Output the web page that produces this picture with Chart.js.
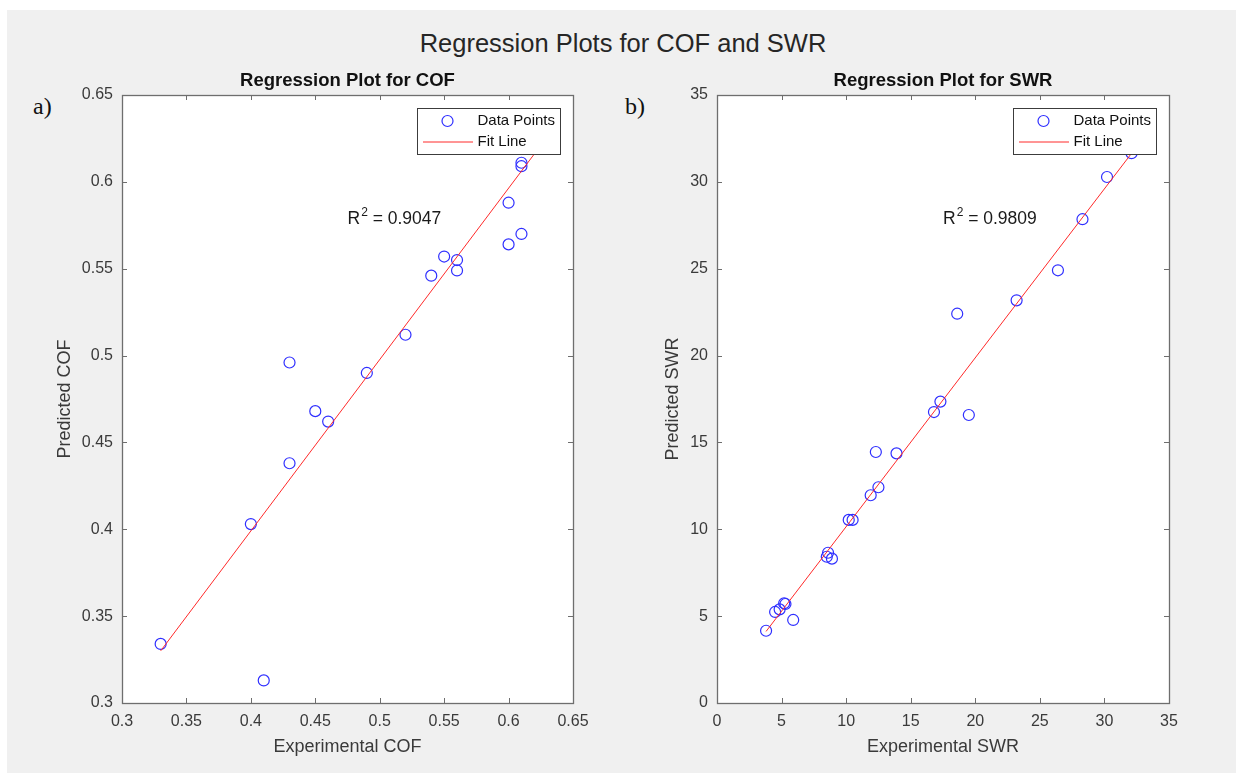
<!DOCTYPE html>
<html>
<head>
<meta charset="utf-8">
<title>Regression Plots for COF and SWR</title>
<script src="https://cdn.jsdelivr.net/npm/chart.js@4.4.0/dist/chart.umd.min.js"></script>
<style>
    html, body { margin: 0; padding: 0; background: #ffffff; }
    body { width: 1236px; height: 773px; position: relative; overflow: hidden; font-family: "Liberation Sans", Arial, sans-serif; }
    #figure { position: absolute; left: 7px; top: 10px; right: 0; bottom: 0; background: #f0f0f0; }
    #mainTitle { position: absolute; left: 0; width: 1246px; top: 29px; line-height: 28px; text-align: center; font-size: 25.5px; color: #262626; }
    .tag { position: absolute; top: 94px; line-height: 24px; font-family: "Liberation Serif", "Times New Roman", serif; font-size: 24px; color: #111111; }
    canvas { position: absolute; top: 0; }
    #cofChart { left: 0; }
    #swrChart { left: 618px; }
</style>
</head>
<body>
<div id="figure"></div>
<div id="mainTitle">Regression Plots for COF and SWR</div>
<div class="tag" style="left:33px">a)</div>
<div class="tag" style="left:625px">b)</div>
<canvas id="cofChart" width="618" height="773"></canvas>
<canvas id="swrChart" width="618" height="773"></canvas>

<script>
// COF: experimental vs predicted
const cofExperimental = [0.61, 0.61, 0.60, 0.61, 0.60, 0.55, 0.56, 0.56, 0.54, 0.52, 0.43, 0.49, 0.45, 0.46, 0.43, 0.40, 0.33, 0.41];
const cofPredicted    = [0.611, 0.609, 0.588, 0.570, 0.564, 0.557, 0.555, 0.549, 0.546, 0.512, 0.496, 0.490, 0.468, 0.462, 0.438, 0.403, 0.334, 0.313];
const cofFitX = [0.33, 0.625];
const cofFitY = [0.33, 0.621];
const cofTicks = [0.3, 0.35, 0.4, 0.45, 0.5, 0.55, 0.6, 0.65];
const cofTickLabels = ["0.3", "0.35", "0.4", "0.45", "0.5", "0.55", "0.6", "0.65"];
const cofR2 = "0.9047";

// SWR: experimental vs predicted
const swrExperimental = [32.1, 30.2, 28.3, 26.4, 23.2, 18.6, 17.3, 16.8, 19.5, 12.3, 13.9, 12.5, 11.9, 10.2, 10.5, 8.6, 8.5, 8.9, 5.2, 5.3, 4.85, 4.5, 5.9, 3.8];
const swrPredicted    = [31.65, 30.28, 27.85, 24.91, 23.18, 22.41, 17.35, 16.75, 16.58, 14.45, 14.37, 12.42, 11.96, 10.54, 10.54, 8.65, 8.42, 8.31, 5.74, 5.70, 5.39, 5.24, 4.78, 4.16];
const swrFitX = [3.8, 32.5];
const swrFitY = [4.12, 32.03];
const swrTicks = [0, 5, 10, 15, 20, 25, 30, 35];
const swrTickLabels = ["0", "5", "10", "15", "20", "25", "30", "35"];
const swrR2 = "0.9809";

const FONT = '"Liberation Sans", Arial, Helvetica, sans-serif';
const BLUE = "#2f2fff";
const RED = "#ff2a2a";
const AXIS = "#6e6e6e";
const LABEL = "#3a3a3a";

// MATLAB style box, inward ticks, subplot title, R^2 text and legend
const matlabAxes = {
    id: "matlabAxes",
    beforeDraw(chart) {
        const { ctx, chartArea: a } = chart;
        ctx.save();
        ctx.fillStyle = "#ffffff";
        ctx.fillRect(a.left, a.top, a.width, a.height);
        ctx.restore();
    },
    afterDraw(chart, args, opts) {
        const { ctx, chartArea: a } = chart;
        const xs = chart.scales.x, ys = chart.scales.y;
        const tl = 5;
        ctx.save();

        // ticks
        ctx.strokeStyle = AXIS;
        ctx.lineWidth = 1;
        ctx.beginPath();
        xs.ticks.forEach(t => {
            const px = Math.round(xs.getPixelForValue(t.value)) + 0.5;
            ctx.moveTo(px, a.bottom); ctx.lineTo(px, a.bottom - tl);
            ctx.moveTo(px, a.top); ctx.lineTo(px, a.top + tl);
        });
        ys.ticks.forEach(t => {
            const py = Math.round(ys.getPixelForValue(t.value)) + 0.5;
            ctx.moveTo(a.left, py); ctx.lineTo(a.left + tl, py);
            ctx.moveTo(a.right, py); ctx.lineTo(a.right - tl, py);
        });
        ctx.stroke();

        // box
        ctx.lineWidth = 1.3;
        ctx.strokeRect(Math.round(a.left) + 0.5, Math.round(a.top) + 0.5, Math.round(a.width), Math.round(a.height));

        // subplot title
        ctx.fillStyle = "#111111";
        ctx.font = "bold 18.5px " + FONT;
        ctx.textAlign = "center";
        ctx.textBaseline = "middle";
        ctx.fillText(opts.title, (a.left + a.right) / 2, a.top - 14);

        // R^2 text
        let tx = xs.getPixelForValue(opts.r2x);
        const ty = ys.getPixelForValue(opts.r2y);
        ctx.fillStyle = "#1a1a1a";
        ctx.textAlign = "left";
        ctx.textBaseline = "alphabetic";
        ctx.font = "17.5px " + FONT;
        const base = ty + 6;
        ctx.fillText("R", tx, base);
        tx += ctx.measureText("R").width + 1;
        ctx.font = "12px " + FONT;
        ctx.fillText("2", tx, base - 8);
        tx += ctx.measureText("2").width;
        ctx.font = "17.5px " + FONT;
        ctx.fillText(" = " + opts.r2, tx, base);

        // legend
        const lw = 143, lh = 46;
        const lx = Math.round(a.right - 13 - lw) + 0.5;
        const ly = Math.round(a.top + 13) + 0.5;
        ctx.fillStyle = "#ffffff";
        ctx.fillRect(lx, ly, lw, lh);
        ctx.strokeStyle = "#3c3c3c";
        ctx.lineWidth = 1;
        ctx.strokeRect(lx, ly, lw, lh);
        ctx.strokeStyle = BLUE;
        ctx.lineWidth = 1.2;
        ctx.beginPath();
        ctx.arc(lx + 30, ly + 12.5, 5.5, 0, Math.PI * 2);
        ctx.stroke();
        ctx.strokeStyle = RED;
        ctx.lineWidth = 1;
        ctx.beginPath();
        ctx.moveTo(lx + 5.5, ly + 33.5);
        ctx.lineTo(lx + 55.5, ly + 33.5);
        ctx.stroke();
        ctx.fillStyle = "#111111";
        ctx.font = "15px " + FONT;
        ctx.textBaseline = "middle";
        ctx.fillText("Data Points", lx + 60, ly + 12.5);
        ctx.fillText("Fit Line", lx + 60, ly + 33.5);

        ctx.restore();
    }
};

// axis title centre = edge + padding + lineHeight/2 (18px font -> 10.8)
function makeScale(ticks, labels, min, max, title, titlePad, extra) {
    return Object.assign({
        type: "linear",
        min: min,
        max: max,
        afterBuildTicks: s => { s.ticks = ticks.map(v => ({ value: v })); },
        ticks: {
            callback: (v, i) => labels[i],
            font: { family: FONT, size: 16 },
            color: LABEL,
            padding: 9,
            maxRotation: 0,
            autoSkip: false
        },
        grid: { display: false, drawTicks: false },
        border: { display: false },
        title: { display: true, text: title, color: LABEL, padding: titlePad, font: { family: FONT, size: 18 } }
    }, extra);
}

function makeChart(id, xs, ys, fitX, fitY, ticks, labels, min, max, names, pad, r2) {
    return new Chart(document.getElementById(id), {
        type: "scatter",
        data: {
            datasets: [{
                label: "Fit Line",
                data: fitX.map((x, i) => ({ x: x, y: fitY[i] })),
                showLine: true,
                borderColor: RED,
                borderWidth: 1,
                pointRadius: 0,
                order: 1
            }, {
                label: "Data Points",
                data: xs.map((x, i) => ({ x: x, y: ys[i] })),
                pointStyle: "circle",
                pointRadius: 5.5,
                pointBorderWidth: 1.2,
                pointBorderColor: BLUE,
                pointBackgroundColor: "rgba(0,0,0,0)",
                order: 2
            }]
        },
        options: {
            responsive: false,
            animation: false,
            events: [],
            layout: { padding: { top: 95, right: pad.right, bottom: 5, left: pad.left } },
            scales: {
                x: makeScale(ticks, labels, min, max, names.x, { top: 0, bottom: 9.7 }, {
                    afterFit: s => { s.height = 65; }
                }),
                y: makeScale(ticks, labels, min, max, names.y, { top: pad.yTitle, bottom: 0 }, {
                    afterFit: s => { s.width = pad.yWidth; }
                })
            },
            plugins: {
                legend: { display: false },
                tooltip: { enabled: false },
                matlabAxes: { title: names.title, r2: r2.text, r2x: r2.x, r2y: r2.y }
            }
        },
        plugins: [matlabAxes]
    });
}

document.addEventListener("DOMContentLoaded", () => {
    makeChart("cofChart", cofExperimental, cofPredicted, cofFitX, cofFitY,
        cofTicks, cofTickLabels, 0.3, 0.65,
        { x: "Experimental COF", y: "Predicted COF", title: "Regression Plot for COF" },
        { left: 40, right: 45, yWidth: 82, yTitle: 14.2 },
        { text: cofR2, x: 0.475, y: 0.579 });

    makeChart("swrChart", swrExperimental, swrPredicted, swrFitX, swrFitY,
        swrTicks, swrTickLabels, 0, 35,
        { x: "Experimental SWR", y: "Predicted SWR", title: "Regression Plot for SWR" },
        { left: 20, right: 67, yWidth: 79, yTitle: 24.2 },
        { text: swrR2, x: 17.5, y: 27.9 });
});
</script>
</body>
</html>
